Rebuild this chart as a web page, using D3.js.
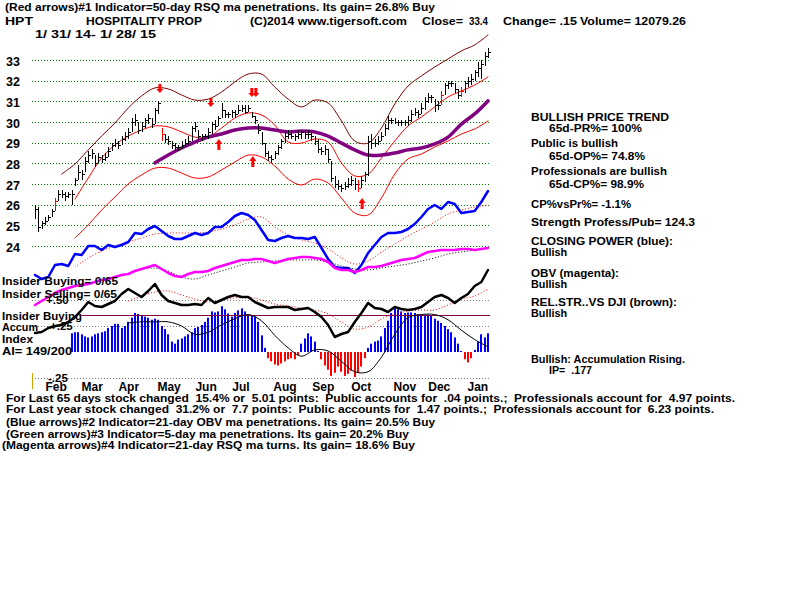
<!DOCTYPE html>
<html><head><meta charset="utf-8">
<script src="https://cdn.jsdelivr.net/npm/d3@7"></script>
<style>
html,body{margin:0;padding:0;background:#fff;}
svg{display:block;}
text{font-family:"Liberation Sans",Arial,sans-serif;font-weight:bold;white-space:pre;fill:#000;}
</style></head><body>
<svg id="c" width="800" height="600"></svg>
<script>
// ---------- DATA ----------
// daily-ish bars, index 0..136 (1/31/14 .. 1/28/15)
const closes = [25.8,24.9,25.1,25.2,25.4,25.7,26.2,26.5,26.5,26.4,
26.5,26.5,27.2,27.6,27.5,28.1,28.4,28.5,28.0,28.3,
28.2,28.3,28.6,28.9,29.0,28.9,29.2,29.3,29.5,30.0,
30.1,29.6,29.8,30.1,30.2,29.9,30.6,30.9,29.4,29.2,
29.1,28.9,28.8,28.8,28.9,29.0,29.1,29.7,29.8,29.3,
29.3,29.3,29.5,29.9,29.8,30.2,30.6,30.4,30.4,30.5,
30.4,30.6,30.7,30.5,30.7,30.3,30.1,29.6,29.0,28.5,
28.3,28.2,28.5,28.8,29.1,29.3,29.4,29.3,29.3,29.4,
29.5,29.4,29.4,29.3,29.1,28.7,28.6,28.7,28.2,27.3,
27.0,26.9,26.8,26.9,27.0,27.2,27.0,26.8,27.2,27.5,
29.1,29.0,29.0,29.1,29.3,29.7,30.1,30.1,30.0,30.0,
30.0,30.0,30.1,30.4,30.5,30.4,30.7,31.0,31.2,31.2,
30.8,30.8,31.3,31.8,31.9,31.9,31.6,31.3,31.5,31.9,
32.0,32.1,32.4,32.6,32.8,33.2,33.4];
const highs = [26.0,25.9,25.2,25.4,25.5,25.8,26.3,26.7,26.7,26.6,
26.6,26.7,27.3,27.9,27.7,28.3,28.6,28.7,28.4,28.5,
28.4,28.5,28.8,29.0,29.2,29.1,29.3,29.5,29.7,30.2,
30.4,30.0,30.0,30.2,30.4,30.2,30.7,31.0,29.7,29.4,
29.3,29.1,29.0,28.9,29.1,29.2,29.3,29.8,30.0,29.6,
29.4,29.4,29.7,30.0,30.1,30.3,30.9,30.6,30.5,30.6,
30.6,30.8,30.8,30.8,30.8,30.5,30.3,29.9,29.5,29.0,
28.6,28.4,28.6,28.9,29.2,29.5,29.6,29.5,29.4,29.6,
29.6,29.6,29.6,29.5,29.3,29.2,28.8,28.9,28.7,28.1,
27.4,27.2,27.0,27.1,27.3,27.4,27.3,27.2,27.4,27.6,
29.3,29.4,29.2,29.3,29.5,29.9,30.3,30.2,30.2,30.1,
30.1,30.1,30.3,30.6,30.7,30.6,30.9,31.2,31.4,31.3,
31.1,31.0,31.5,31.9,32.0,32.0,31.9,31.6,31.7,32.0,
32.2,32.3,32.5,32.9,33.0,33.4,33.6];
const lows = [25.3,24.7,24.8,25.0,25.2,25.4,25.7,26.2,26.3,26.2,
26.3,26.0,26.9,27.2,27.2,27.6,28.0,28.2,27.8,28.0,
28.0,28.1,28.3,28.6,28.8,28.7,28.9,29.1,29.2,29.5,
29.8,29.4,29.5,29.7,29.9,29.7,29.9,30.4,29.1,29.0,
28.9,28.7,28.6,28.6,28.7,28.8,28.9,29.1,29.5,29.2,
29.1,29.2,29.2,29.4,29.6,29.8,30.2,30.2,30.2,30.2,
30.2,30.4,30.5,30.4,30.5,30.2,29.9,29.4,28.9,28.3,
28.1,28.0,28.2,28.4,28.7,29.0,29.2,29.2,29.1,29.2,
29.2,29.2,29.2,29.1,28.9,28.5,28.4,28.4,28.0,27.1,
26.8,26.7,26.6,26.7,26.8,26.9,26.7,26.6,26.8,27.1,
27.4,28.7,28.8,28.9,29.1,29.3,29.6,29.9,29.9,29.8,
29.8,29.8,29.8,30.0,30.3,30.2,30.4,30.6,30.9,30.9,
30.5,30.6,30.8,31.3,31.6,31.7,31.4,31.1,31.2,31.4,
31.7,31.8,32.0,32.2,32.1,32.7,33.1];
const redBars = [6, 38, 97, 122, 128];

// bands, sampled every 4 bars starting at bar 8
const bandStart = 8, bandStep = 4;
const outerUpper = [27.48,27.97,28.65,29.32,29.95,30.68,31.26,31.65,31.60,31.31,31.06,31.11,31.45,31.94,32.32,32.32,31.69,31.11,30.73,31.06,30.92,30.05,29.08,28.98,29.71,30.87,31.74,32.23,32.66,33.05,33.44,33.73,34.21];
const innerUpper = [null,26.27,27.29,28.26,28.89,29.32,29.61,29.81,29.76,29.52,29.27,29.27,29.71,30.19,30.44,30.34,29.85,29.03,28.98,29.18,29.03,28.02,27.39,27.48,28.26,29.08,29.81,30.24,30.73,31.21,31.50,31.79,32.18];
const maLine = [null,null,null,null,null,null,null,28.02,28.40,28.74,29.03,29.27,29.42,29.61,29.71,29.71,29.61,29.52,29.56,29.52,29.32,28.98,28.65,28.40,28.40,28.50,28.65,28.74,28.94,29.27,29.90,30.39,31.02];
const lowerBand = [null,24.39,25.02,25.74,26.37,27.00,27.44,27.77,27.77,27.53,27.29,27.34,27.68,28.06,28.40,28.31,27.87,27.24,26.95,27.24,27.05,26.32,25.60,25.50,26.32,27.48,28.21,28.45,28.79,29.08,29.42,29.66,30.05];

// indicator lines (arbitrary units), every 2 bars from bar 0
const closingPower = [75,71,73,85,86,84,96,95,104,104,100,105,103,105,108,117,116,121,124,119,114,111,111,114,117,115,117,123,123,128,134,137,135,130,120,110,109,112,114,112,112,111,113,102,91,83,82,82,77,85,97,105,113,117,117,118,121,126,133,141,145,141,148,146,137,138,139,148,159];
const cpMA = [83,92,99,104,108,112,116,117,117,117,118,121,125,131,133,123,115,110,107,101,92,86,89,98,106,114,121,128,136,140,143,145]; // every 4 from bar 12
const obv = [45,49,53,57,60,62,64,65,66,68,70,71,73,75,76,79,81,83,85,81,77,74,73,76,78,78,79,82,84,86,88,90,90,91,91,89,87,89,91,92,93,93,92,91,88,82,80,80,78,80,83,83,84,86,88,90,91,92,95,98,99,100,100,100,101,101,100,101,102];
const obvMA = [81,82,79,73,71,75,79,83,87,88,89,90,90,90,88,84,81,80,82,84,86,89,92,96,98,100,102]; // every 4 from bar 32
const relStr = [17,18,22,24,25,28,33,40,48,44,43,46,49,56,61,57,53,59,66,55,49,47,45,45,46,45,52,47,50,53,55,53,53,48,45,42,43,43,43,40,41,42,38,33,25,13,16,18,28,37,47,42,41,38,43,41,40,41,43,48,53,55,52,47,52,56,64,68,80];
const relStrMA = [49,54,58,59,55,51,48,50,52,53,50,46,44,42,40,36,28,21,23,31,36,39,40,40,45,51,54,61]; // every 4 from bar 28

// accumulation index, one per bar from bar 11
const aiStart = 11;
const accumIndex = [.18,.19,.19,.17,.15,.14,.15,.17,.18,.19,
.20,.23,.25,.27,.27,.23,.25,.29,.33,.375,
.365,.35,.34,.33,.31,.32,.31,.25,.22,.17,
.10,.08,.12,.13,.15,.17,.19,.23,.24,.26,
.29,.33,.39,.38,.39,.44,.41,.37,.34,.375,
.40,.42,.39,.36,.35,.34,.29,.16,.04,-.06,
-.09,-.12,-.13,-.11,-.09,-.07,-.06,-.07,-.03,.08,
.13,.18,.15,.10,.01,-.07,-.13,-.17,-.23,-.20,
-.14,-.19,-.23,-.21,-.18,-.24,-.20,-.14,-.06,.04,
.08,.10,.11,.15,.23,.30,.375,.42,.41,.39,
.375,.38,.38,.375,.365,.36,.36,.36,.35,.32,
.30,.28,.25,.22,.19,.14,.08,.01,-.07,-.10,
-.06,.02,.10,.17,.14,.18];
const accumMA = [.28,.29,.29,.29,.25,.17,.19,.26,.32,.36,.30,.16,.04,-.04,.02,.01,-.09,-.19,-.19,-.05,.17,.33,.36,.36,.31,.21,.12,.05]; // every 4 from bar 28
const aiRefLevel = 0.356;
const aiGrid = [0.5, 0.25, -0.25];

// signal arrows: [bar index, price at tip]
const downArrows = [[37.5,31.40],[52.8,30.73],[65.1,31.21],[66.3,31.21]];
const upArrows = [[55.2,29.18],[65.4,28.35],[98.2,26.32]];

const priceTicks = [24,25,26,27,28,29,30,31,32,33];
const monthPos = [3.0,13.8,24.9,36.6,48.0,59.1,71.4,83.1,94.8,107.5,117.9,129.7];
const monthLabels = ["Feb","Mar","Apr","May","Jun","Jul","Aug","Sep","Oct","Nov","Dec","Jan"];

// ---------- DRAW ----------
const svg = d3.select('#c');
const xs = d3.scaleLinear().domain([0,136]).range([35,488]);
const yP = d3.scaleLinear().domain([24,33]).range([246,60]);
const yI = d3.scaleLinear().domain([0,150]).range([350,200]);
const yA = d3.scaleLinear().domain([-0.25,0.25]).range([378,326]);
const X0 = 32, X1 = 490;

const ser = (arr, start, step) => arr.map((v,k)=>({i:start+k*step, v})).filter(d=>d.v!=null);

// grid
svg.append('g').selectAll('line').data(priceTicks).join('line')
  .attr('x1',X0).attr('x2',X1)
  .attr('y1',d=>Math.round(yP(d))+0.5).attr('y2',d=>Math.round(yP(d))+0.5)
  .attr('stroke','#008000').attr('stroke-dasharray','1,2');
svg.append('g').selectAll('line').data(aiGrid).join('line')
  .attr('x1',X0).attr('x2',X1)
  .attr('y1',d=>Math.round(yA(d))+0.5).attr('y2',d=>Math.round(yA(d))+0.5)
  .attr('stroke','#808080').attr('stroke-dasharray','1,2');

// AI bars
svg.append('g').selectAll('rect').data(ser(accumIndex, aiStart, 1)).join('rect')
  .attr('x',d=>Math.round(xs(d.i))-1).attr('width',2)
  .attr('y',d=>yA(Math.max(0,d.v))).attr('height',d=>Math.abs(yA(d.v)-yA(0)))
  .attr('fill',d=>d.v>=0?'#0000ff':'#ff0000');

// reference line
svg.append('line').attr('x1',82).attr('x2',X1)
  .attr('y1',Math.round(yA(aiRefLevel))+0.5).attr('y2',Math.round(yA(aiRefLevel))+0.5)
  .attr('stroke','#800040').attr('stroke-width',1);

const smooth = d3.curveCatmullRom.alpha(0.5);
function path(data, yscale, color, width, dash, curve){
  const p = svg.append('path').datum(data)
    .attr('d', d3.line().x(d=>xs(d.i)).y(d=>yscale(d.v)).curve(curve||d3.curveLinear))
    .attr('fill','none').attr('stroke',color).attr('stroke-width',width)
    .attr('stroke-linejoin','round').attr('stroke-linecap','round');
  if(dash) p.attr('stroke-dasharray',dash).attr('stroke-linecap','butt');
  return p;
}

path(ser(accumMA,28,4), yA, '#000', 1, null, smooth);

// price bands
path(ser(outerUpper,bandStart,bandStep), yP, '#800000', 1, null, smooth);
path(ser(innerUpper,bandStart,bandStep), yP, '#ff0000', 1, null, smooth);
path(ser(lowerBand,bandStart,bandStep), yP, '#ff0000', 1, null, smooth);
path(ser(maLine,bandStart,bandStep), yP, '#800080', 3.5, null, smooth);

// closing power
path(ser(cpMA,12,4), yI, '#ff0000', 1, '1,2', smooth);
path(ser(closingPower,0,2), yI, '#0000ff', 2.5);
// OBV
path(ser(obvMA,32,4), yI, '#000', 1, '1,2', smooth);
path(ser(obv,0,2), yI, '#ff00ff', 2.5);
// rel strength
path(ser(relStrMA,28,4), yI, '#ff0000', 1, '1,2', smooth);
path(ser(relStr,0,2), yI, '#000', 2.5);

// price bars
const bars = closes.map((c,i)=>({i, c, h:highs[i], l:lows[i], red:redBars.includes(i)}));
const bg = svg.append('g').attr('shape-rendering','crispEdges');
bg.selectAll('line.hl').data(bars).join('line').attr('class','hl')
  .attr('x1',d=>Math.round(xs(d.i))+0.5).attr('x2',d=>Math.round(xs(d.i))+0.5)
  .attr('y1',d=>yP(d.h)).attr('y2',d=>yP(d.l))
  .attr('stroke',d=>d.red?'#ff0000':'#000');
bg.selectAll('line.cl').data(bars).join('line').attr('class','cl')
  .attr('x1',d=>Math.round(xs(d.i))+0.5).attr('x2',d=>Math.round(xs(d.i))+3)
  .attr('y1',d=>Math.round(yP(d.c))+0.5).attr('y2',d=>Math.round(yP(d.c))+0.5)
  .attr('stroke',d=>d.red?'#ff0000':'#000');

// arrows
svg.append('g').selectAll('path').data(downArrows).join('path')
  .attr('d',d=>{const x=xs(d[0]), y=yP(d[1]);
    return `M${x-1.5},${y-9}L${x+1.5},${y-9}L${x+1.5},${y-4}L${x+3.5},${y-4}L${x},${y}L${x-3.5},${y-4}L${x-1.5},${y-4}Z`;})
  .attr('fill','#ff0000');
svg.append('g').selectAll('path').data(upArrows).join('path')
  .attr('d',d=>{const x=xs(d[0]), y=yP(d[1]);
    return `M${x-1.5},${y+11}L${x+1.5},${y+11}L${x+1.5},${y+5}L${x+3.5},${y+5}L${x},${y}L${x-3.5},${y+5}L${x-1.5},${y+5}Z`;})
  .attr('fill','#ff0000');

// axes
const ya = svg.append('g').attr('transform','translate(20,0)')
  .call(d3.axisLeft(yP).tickValues(priceTicks).tickSize(0).tickPadding(0).tickFormat(d3.format('d')));
ya.select('.domain').remove();
ya.selectAll('text').attr('dy','0.4em').style('font-size','12.5px').style('font-family','"Liberation Sans",Arial,sans-serif').style('font-weight','bold');

const xa = svg.append('g').attr('transform','translate(0,382)')
  .call(d3.axisBottom(xs).tickValues(monthPos).tickSize(0).tickPadding(0).tickFormat((d,k)=>monthLabels[k]));
xa.select('.domain').remove();
xa.selectAll('text').attr('text-anchor','start').style('font-size','12px').style('font-family','"Liberation Sans",Arial,sans-serif').style('font-weight','bold');

svg.append('line').attr('x1',32.5).attr('x2',32.5).attr('y1',373).attr('y2',389).attr('stroke','#c8a000');

// texts
function txt(s, x, y, w, size){
  const t = svg.append('text').attr('x',x).attr('y',y).style('font-size',(size||11.5)+'px').text(s);
  if(w) t.attr('textLength',w).attr('lengthAdjust','spacingAndGlyphs');
  return t;
}
const texts = [
 ["(Red arrows)#1 Indicator=50-day RSQ ma penetrations. Its gain= 26.8% Buy",5,11,430],
 ["HPT",5,25,28],["HOSPITALITY PROP",86,25,116],["(C)2014 www.tigersoft.com",250,25,157],
 ["Close=",422,25,41],["33.4",469,25,19],["Change= .15",503,25,74],["Volume= 12079.26",580,25,106],
 ["1/ 31/ 14- 1/ 28/ 15",35,38,121],
 ["BULLISH PRICE TREND",531,120.5,138],["65d-PR%= 100%",549,131.5,93],
 ["Public is bullish",531,147,87],["65d-OP%= 74.8%",549,160,96],
 ["Professionals are bullish",531,175,136],["65d-CP%= 98.9%",549,187.5,95],
 ["CP%vsPr%= -1.1%",531,207.5,100],["Strength Profess/Pub= 124.3",531,226,164],
 ["CLOSING POWER (blue):",531,245,142],["Bullish",531,256,36],
 ["OBV (magenta):",531,277,88],["Bullish",531,287.5,36],
 ["REL.STR..VS DJI (brown):",531,305.5,146],["Bullish",531,316.5,36],
 ["Bullish: Accumulation Rising.",531,363,154],["IP=  .177",549,373.5,43],
 ["Insider Buying= 0/65",2,285,116],["Insider Selling= 0/65",2,297.5,115],
 ["Insider Buying",2,320,80],["Accum",2,331,36],["Index",2,343,31],["AI= 149/200",2,355,70],
 ["For Last 65 days stock changed  15.4% or  5.01 points:  Public accounts for  .04 points.;  Professionals account for  4.97 points.",6,401.5,729],
 ["For Last year stock changed  31.2% or  7.7 points:  Public accounts for  1.47 points.;  Professionals account for  6.23 points.",6,413,708],
 ["(Blue arrows)#2 Indicator=21-day OBV ma penetrations. Its gain= 20.5% Buy",6,426,429],
 ["(Green arrows)#3 Indicator=5-day ma penetrations. Its gain= 20.2% Buy",6,437.5,403],
 ["(Magenta arrows)#4 Indicator=21-day RSQ ma turns. Its gain= 18.6% Buy",2,449,413]
];
texts.forEach(t=>txt(t[0],t[1],t[2],t[3]));
// AI scale labels
[["+.50",0.5,46],["+.25",0.25,50],["-.25",-0.25,48]].forEach(a=>{
  svg.append('text').attr('x',a[2]).attr('y',yA(a[1])).attr('dy','0.35em').style('font-size','11.5px').text(a[0]);
});
</script></body></html>
